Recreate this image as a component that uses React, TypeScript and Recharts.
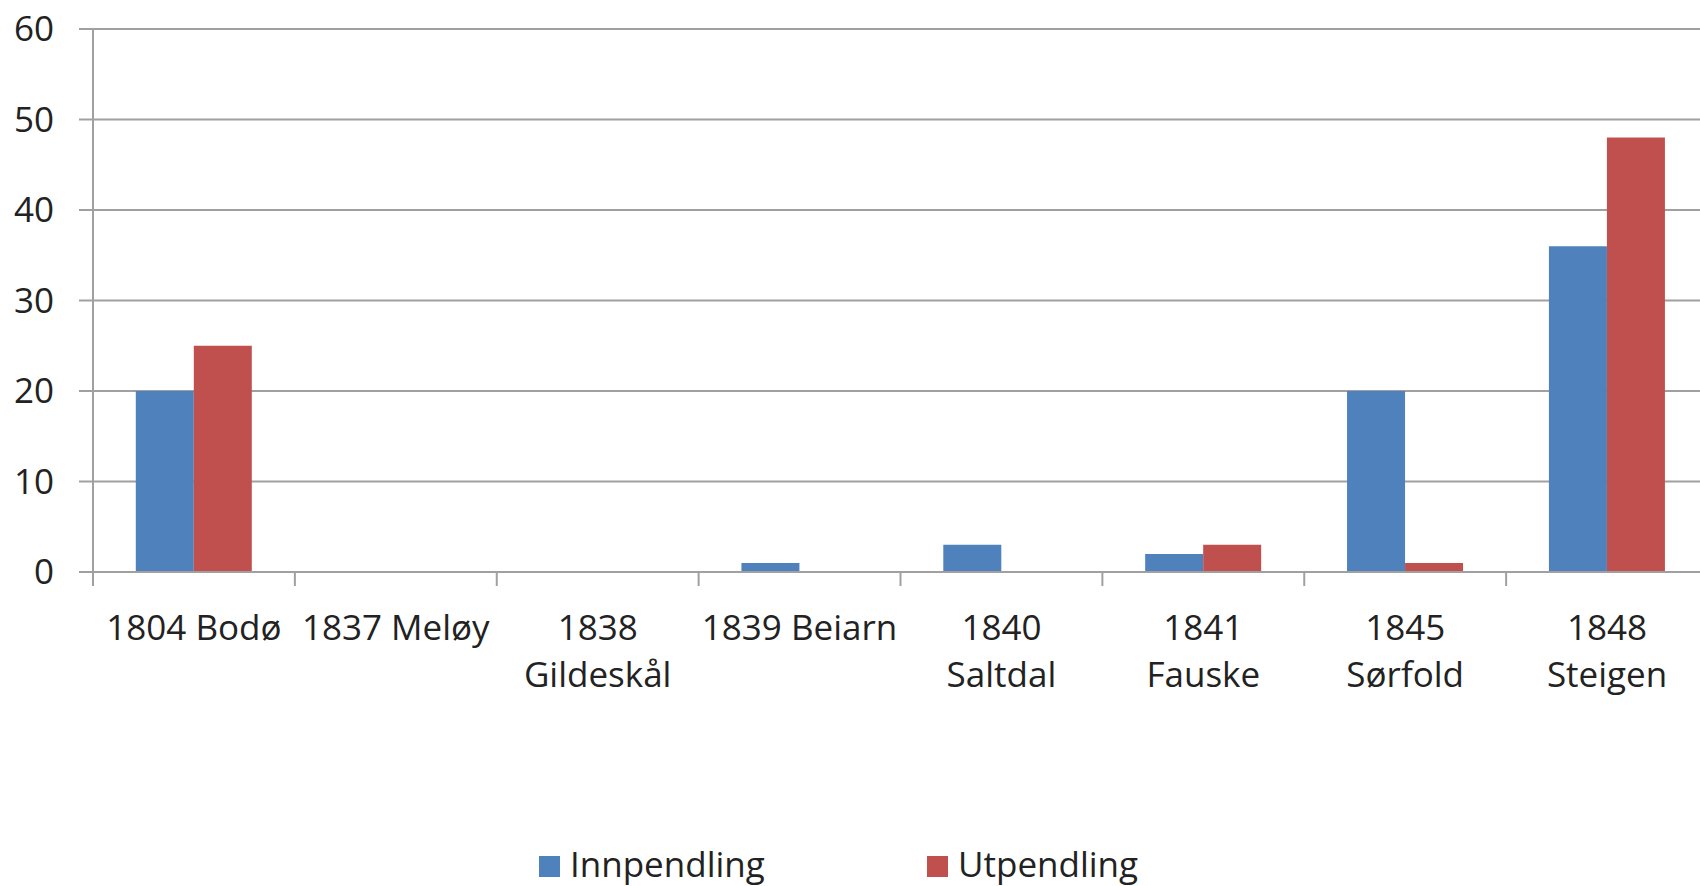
import { BarChart, Bar, XAxis, YAxis, CartesianGrid, Legend } from "recharts";

// municipality labels, "\n" marks where the original wraps
const categories = [
  "1804 Bodø",
  "1837 Meløy",
  "1838\nGildeskål",
  "1839 Beiarn",
  "1840\nSaltdal",
  "1841\nFauske",
  "1845\nSørfold",
  "1848\nSteigen",
];
const innpendling = [20, 0, 0, 1, 3, 2, 20, 36];
const utpendling = [25, 0, 0, 0, 0, 3, 1, 48];
const yTicks = [0, 10, 20, 30, 40, 50, 60];

const data = categories.map((name, i) => ({
  name,
  innpendling: innpendling[i],
  utpendling: utpendling[i],
}));

const FONT = "'Open Sans', sans-serif";
const GRID = "#a0a0a0";
const BLUE = "#4F81BD";
const RED = "#C0504D";

// the plot runs a few px past the right edge of the picture in the original
const CHART_W = 1708;

const CategoryTick = (props: any) => {
  const { x, y, payload, index, width } = props;
  const band = (width || CHART_W - 93) / categories.length;
  const axisY = y - 14;
  const lines = String(payload.value).split("\n");
  return (
    <g>
      <line x1={x - band / 2} x2={x - band / 2} y1={axisY} y2={axisY + 14} stroke={GRID} strokeWidth={2} />
      {index === categories.length - 1 && (
        <line x1={x + band / 2} x2={x + band / 2} y1={axisY} y2={axisY + 14} stroke={GRID} strokeWidth={2} />
      )}
      <text x={x} y={y + 54} textAnchor="middle" fill="#222" fontSize={35} fontFamily={FONT}>
        {lines.map((line, i) => (
          <tspan key={i} x={x} dy={i === 0 ? 0 : 47}>
            {line}
          </tspan>
        ))}
      </text>
    </g>
  );
};

const legendItems = [
  { label: "Innpendling", color: BLUE, left: 539 },
  { label: "Utpendling", color: RED, left: 927 },
];

const ChartLegend = () => (
  <div style={{ position: "relative", width: 1700, height: 44 }}>
    {legendItems.map((item) => (
      <div key={item.label} style={{ position: "absolute", left: item.left, top: 0, height: 42 }}>
        <div
          style={{
            position: "absolute",
            left: 0,
            top: 14,
            width: 21,
            height: 21,
            background: item.color,
          }}
        />
        <span
          style={{
            position: "absolute",
            left: 31,
            top: 2,
            lineHeight: "40px",
            fontSize: 35,
            fontFamily: FONT,
            color: "#222",
            whiteSpace: "nowrap",
          }}
        >
          {item.label}
        </span>
      </div>
    ))}
  </div>
);

export default function App() {
  return (
    <div style={{ width: 1700, height: 886, background: "#fff", overflow: "hidden" }}>
      <style>{`body{margin:0}`}</style>
      <BarChart
        width={CHART_W}
        height={886}
        data={data}
        margin={{ top: 29, right: 0, left: 0, bottom: 0 }}
        barCategoryGap="21.2%"
        barGap={0}
      >
        <CartesianGrid vertical={false} stroke={GRID} strokeWidth={2} />
        <XAxis
          dataKey="name"
          height={270}
          interval={0}
          tickLine={false}
          tickSize={14}
          tickMargin={0}
          axisLine={{ stroke: GRID, strokeWidth: 2 }}
          tick={<CategoryTick />}
        />
        <YAxis
          width={93}
          domain={[0, 60]}
          ticks={yTicks}
          interval={0}
          tickSize={14}
          tickMargin={25}
          tickLine={{ stroke: GRID, strokeWidth: 2 }}
          axisLine={{ stroke: GRID, strokeWidth: 2 }}
          tick={{ fill: "#222", fontSize: 35, fontFamily: FONT }}
        />
        <Legend verticalAlign="bottom" content={<ChartLegend />} />
        <Bar dataKey="innpendling" name="Innpendling" fill={BLUE} isAnimationActive={false} />
        <Bar dataKey="utpendling" name="Utpendling" fill={RED} isAnimationActive={false} />
      </BarChart>
    </div>
  );
}
